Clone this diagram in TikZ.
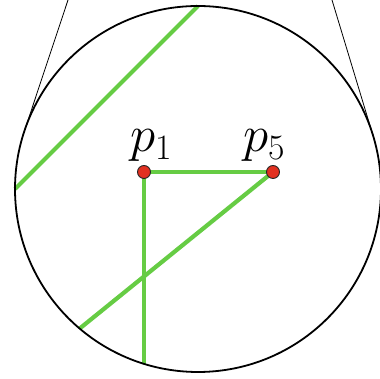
\RequirePackage{fix-cm}
\documentclass[tikz,border=0pt]{standalone}
\usetikzlibrary{backgrounds}
\definecolor{chordgreen}{RGB}{102,204,68}
\definecolor{dotred}{RGB}{226,48,32}
\begin{document}
\begin{tikzpicture}[x=1pt,y=1pt,
  chord/.style={chordgreen,line width=4.2pt},
  pt/.style={circle,fill=dotred,draw=black!85,line width=0.9pt,inner sep=0pt,minimum size=13pt},
  lbl/.style={anchor=base,font=\fontsize{51}{51}\selectfont}]
\useasboundingbox (0,0) rectangle (380,379);
% disc and the two tangents from above
\coordinate (c) at (198,190);
\coordinate (ta) at (68,379);
\coordinate (tb) at (332,379);
\path (c) ++(161.6:183) coordinate (ka);
\path (c) ++(16.85:183) coordinate (kb);
\draw[line width=0.8pt] (ta) -- (ka);
\draw[line width=0.8pt] (tb) -- (kb);
\draw[line width=1.8pt] (c) circle (183);
% points and chords
\path (c) ++(180:183) coordinate (w);
\path (c) ++(90:183) coordinate (n);
\path (c) ++(229.7:183) coordinate (sw);
\coordinate (s) at (144,15);
\node[pt] (p1) at (144,207) {};
\node[pt] (p5) at (273,207) {};
\begin{scope}[on background layer]
\draw[chord] (w) -- (n);
\draw[chord] (p1.center) -- (p5.center);
\draw[chord] (p1.center) -- (s);
\draw[chord] (p5.center) -- (sw);
\end{scope}
\node[lbl] (l1) at (151,227) {$p_1$};
\node[lbl] (l5) at (264,227) {$p_5$};
\end{tikzpicture}
\end{document}
